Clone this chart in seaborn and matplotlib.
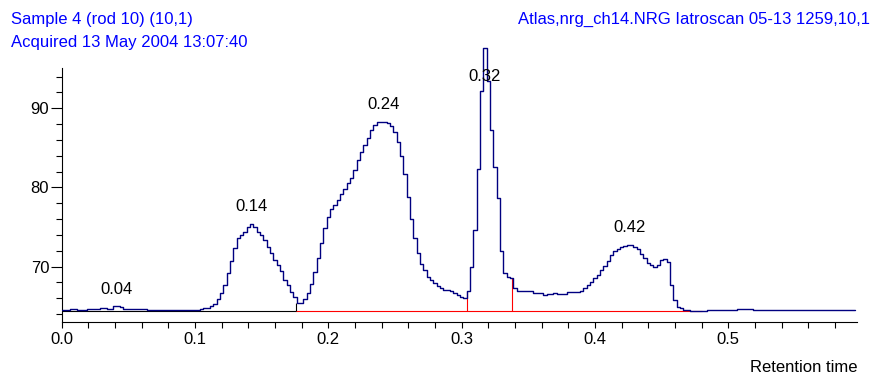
import numpy as np
import pandas as pd
import matplotlib
matplotlib.use("Agg")
import matplotlib.pyplot as plt
from matplotlib.ticker import MultipleLocator, FixedLocator, FormatStrFormatter
import seaborn as sns

# ── 1. Trace (one value per 0.0025 RT step) ───────────────────────
RT_STEP = 0.0025
signal = [
    64.45, 64.45, 64.45, 64.6, 64.6, 64.5, 64.5, 64.5, 64.65, 64.65,
    64.65, 64.65, 64.7, 64.7, 64.65, 64.65, 65.0, 65.0, 64.85, 64.65,
    64.6, 64.6, 64.6, 64.6, 64.6, 64.6, 64.55, 64.55, 64.55, 64.5,
    64.5, 64.5, 64.5, 64.5, 64.5, 64.5, 64.5, 64.5, 64.5, 64.55,
    64.55, 64.55, 64.6, 64.7, 64.8, 64.95, 65.25, 65.9, 66.6, 67.7,
    69.2, 70.7, 72.3, 73.6, 74.0, 74.4, 75.0, 75.4, 75.05, 74.4,
    74.0, 73.4, 72.5, 71.7, 70.8, 70.2, 69.4, 68.3, 67.7, 66.8,
    66.2, 65.45, 65.4, 65.85, 66.6, 67.8, 69.3, 71.1, 73.0, 74.85,
    76.2, 77.25, 77.8, 78.4, 79.2, 79.8, 80.5, 81.2, 82.2, 83.4,
    84.5, 85.4, 86.3, 87.3, 87.9, 88.2, 88.3, 88.3, 88.1, 87.7,
    87.05, 85.7, 84.0, 81.7, 78.8, 76.0, 73.6, 71.7, 70.3, 69.5,
    68.7, 68.3, 67.9, 67.5, 67.3, 67.05, 67.0, 66.85, 66.65, 66.45,
    66.2, 66.0, 66.9, 69.9, 74.6, 82.3, 92.2, 97.6, 93.5, 87.3,
    82.6, 78.6, 71.9, 69.2, 68.7, 68.6, 67.3, 66.9, 66.85, 66.85,
    66.85, 66.85, 66.65, 66.65, 66.65, 66.4, 66.55, 66.55, 66.7, 66.55,
    66.55, 66.55, 66.75, 66.75, 66.75, 66.75, 66.9, 67.25, 67.7, 68.1,
    68.5, 68.9, 69.5, 70.1, 70.75, 71.5, 71.9, 72.2, 72.45, 72.65,
    72.75, 72.75, 72.5, 72.2, 71.6, 71.05, 70.5, 70.2, 70.0, 70.2,
    70.85, 70.9, 70.6, 67.7, 65.8, 64.9, 64.7, 64.55, 64.45, 64.4,
    64.35, 64.35, 64.4, 64.4, 64.45, 64.45, 64.45, 64.45, 64.45, 64.5,
    64.5, 64.5, 64.5, 64.6, 64.6, 64.6, 64.6, 64.6, 64.55, 64.55,
    64.55, 64.55, 64.55, 64.55, 64.55, 64.55, 64.55, 64.55, 64.55, 64.55,
    64.55, 64.55, 64.55, 64.55, 64.55, 64.55, 64.55, 64.55, 64.55, 64.55,
    64.55, 64.55, 64.55, 64.55, 64.55, 64.55, 64.55, 64.55, 64.55,
]

peak_labels = ["0.04", "0.14", "0.24", "0.32", "0.42"]

# integration baseline + peak cuts
baseline_level = 64.4
baseline_end = 0.48
cut_rt = [0.1755, 0.3038, 0.338]
cut_top = [65.45, 66.9, 68.6]

header_left = ["Sample 4 (rod 10) (10,1)", "Acquired 13 May 2004 13:07:40"]
header_right = "Atlas,nrg_ch14.NRG Iatroscan 05-13 1259,10,1"

rt = np.arange(len(signal)) * RT_STEP
df = pd.DataFrame({"rt": rt, "signal": signal})

# ── 2. Style ──────────────────────────────────────────────────────
sns.set_style("ticks", {"axes.edgecolor": "black", "xtick.color": "black",
                        "ytick.color": "black", "text.color": "black"})
plt.rcParams["font.family"] = ["Liberation Sans", "DejaVu Sans"]
plt.rcParams["font.size"] = 12

Y_LOW, Y_SPINE_TOP, Y_HIGH = 62.95, 95.05, 98.5
X_HIGH = 0.5965

fig = plt.figure(figsize=(8.75, 3.74), dpi=100)
ax = fig.add_axes([0.0705, 0.1382, 0.9089, 0.7522])

# ── 3. Baseline and cuts ──────────────────────────────────────────
ax.plot([0, cut_rt[0]], [baseline_level] * 2, color="black", lw=0.8, zorder=2)
ax.plot([cut_rt[0], baseline_end], [baseline_level] * 2, color="red", lw=0.8, zorder=2)
ax.vlines(cut_rt, baseline_level, cut_top, colors=["black", "red", "red"], lw=0.8, zorder=2)

# ── 4. Trace ──────────────────────────────────────────────────────
sns.lineplot(data=df, x="rt", y="signal", ax=ax, color="#000080", lw=1.0,
             drawstyle="steps-mid", estimator=None, sort=False, zorder=3)

# ── 5. Peak labels above apex ─────────────────────────────────────
label_ceiling = Y_SPINE_TOP - 1.1
sig = np.asarray(signal)
for lab in peak_labels:
    win = np.abs(rt - float(lab)) <= 0.01
    sub_rt, sub_sig = rt[win], sig[win]
    top = sub_sig.max()
    x_apex = sub_rt[sub_sig == top].mean()
    ax.text(x_apex, min(top + 2.15, label_ceiling), lab, ha="center", va="center",
            fontsize=12, color="black", zorder=4)

# ── 6. Axes ───────────────────────────────────────────────────────
ax.set_xlim(0, X_HIGH)
ax.set_ylim(Y_LOW, Y_HIGH)
ax.spines[["top", "right"]].set_visible(False)
ax.spines["left"].set_bounds(Y_LOW, Y_SPINE_TOP)
for s in ("left", "bottom"):
    ax.spines[s].set_linewidth(0.8)

ax.xaxis.set_major_locator(MultipleLocator(0.1))
ax.xaxis.set_minor_locator(MultipleLocator(0.02))
ax.xaxis.set_major_formatter(FormatStrFormatter("%.1f"))
ax.yaxis.set_major_locator(FixedLocator([70, 80, 90]))
ax.yaxis.set_minor_locator(FixedLocator(list(range(64, 95, 2))))

ax.tick_params(axis="x", which="both", direction="out", length=4.3, width=0.8, pad=2.5,
               labelsize=12)
ax.tick_params(axis="y", which="major", direction="out", length=8, width=0.8, pad=1,
               labelsize=12)
ax.tick_params(axis="y", which="minor", direction="out", length=4.3, width=0.8)
ax.set_xlabel("")
ax.set_ylabel("")

fig.text(857 / 875, (374 - 371.5) / 374, "Retention time", ha="right", va="baseline",
         fontsize=12, color="black")

# ── 7. Header ─────────────────────────────────────────────────────
fig.text(10.7 / 875, (374 - 24) / 374, header_left[0], ha="left", va="baseline",
         fontsize=12, color="#0000FF")
fig.text(10.7 / 875, (374 - 47) / 374, header_left[1], ha="left", va="baseline",
         fontsize=12, color="#0000FF")
fig.text(870 / 875, (374 - 24) / 374, header_right, ha="right", va="baseline",
         fontsize=12, color="#0000FF")

fig.savefig("out.png", dpi=100)
